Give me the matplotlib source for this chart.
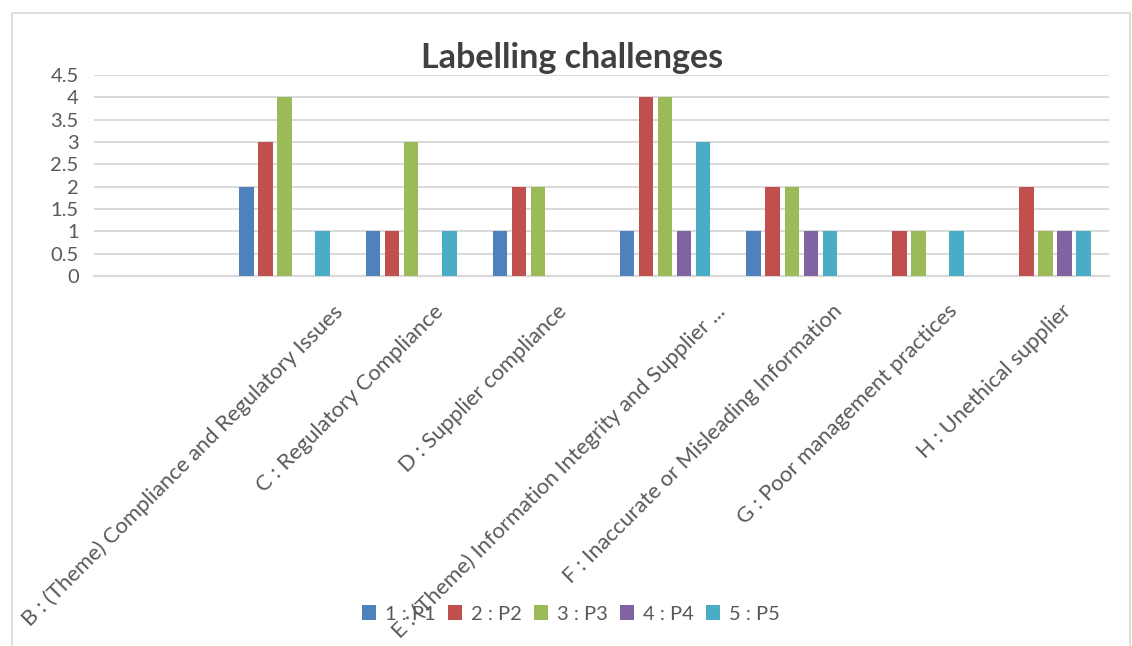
import matplotlib
matplotlib.use("Agg")
import matplotlib.pyplot as plt
import matplotlib.transforms as mtransforms
from matplotlib.patches import Rectangle, Patch
import numpy as np

# Chart data
categories = [
    "",
    "B : (Theme) Compliance and Regulatory Issues",
    "C : Regulatory Compliance",
    "D : Supplier compliance",
    "E : (Theme) Information Integrity and Supplier ...",
    "F : Inaccurate or Misleading Information",
    "G : Poor management practices",
    "H : Unethical supplier",
]
series_names = ["1 : P1", "2 : P2", "3 : P3", "4 : P4", "5 : P5"]
p1 = [0, 2, 1, 1, 1, 1, 0, 0]
p2 = [0, 3, 1, 2, 4, 2, 1, 2]
p3 = [0, 4, 3, 2, 4, 2, 1, 1]
p4 = [0, 0, 0, 0, 1, 1, 0, 1]
p5 = [0, 1, 1, 0, 3, 1, 1, 1]
series_values = [p1, p2, p3, p4, p5]
colors = ["#4F81BD", "#C0504D", "#9BBB59", "#8064A2", "#4BACC6"]
yticks = [0, 0.5, 1, 1.5, 2, 2.5, 3, 3.5, 4, 4.5]
ytick_labels = ["0", "0.5", "1", "1.5", "2", "2.5", "3", "3.5", "4", "4.5"]

FONT = "Lato"
TXT = "#595959"
GRID = "#d9d9d9"
LABEL_SIZE = 15.8

W, H, DPI = 1132, 646, 100
fig = plt.figure(figsize=(W / DPI, H / DPI), dpi=DPI)
fig.patch.set_facecolor("white")

# outer chart frame
fig.patches.append(Rectangle((12 / W, -0.05), (1130 - 12) / W, 1.05 - 13 / H,
                             transform=fig.transFigure, fill=False,
                             edgecolor=GRID, linewidth=1.2))

ax = fig.add_axes([94 / W, 1 - 276 / H, (1109 - 94) / W, (276 - 75) / H])

x = np.arange(len(categories))
step, bw = 0.15, 0.115
for k, (vals, col) in enumerate(zip(series_values, colors)):
    ax.bar(x + (k - 2) * step, vals, width=bw, color=col, linewidth=0, zorder=3)

ax.set_xlim(-0.5, len(categories) - 0.5)
ax.set_ylim(0, 4.5)
ax.set_yticks(yticks)
ax.set_yticklabels(ytick_labels, fontsize=14.5, color=TXT, family=FONT)
ax.tick_params(axis="y", length=0, pad=11)
ax.set_xticks([])
for g in yticks[1:]:
    ax.axhline(g, color=GRID, linewidth=1.4, zorder=1)
for s in ["left", "right", "top"]:
    ax.spines[s].set_visible(False)
ax.spines["bottom"].set_color(GRID)
ax.spines["bottom"].set_linewidth(1.6)
ax.spines["bottom"].set_zorder(2)

# rotated category labels, shifted right in proportion to their length
fig.canvas.draw()
renderer = fig.canvas.get_renderer()
base = mtransforms.blended_transform_factory(ax.transData, ax.transAxes)
for i, lab in enumerate(categories):
    if not lab:
        continue
    tmp = fig.text(0, 0, lab, fontsize=LABEL_SIZE, family=FONT)
    w = tmp.get_window_extent(renderer).width
    tmp.remove()
    dx = 0.137 * w - 13
    dy = -25
    tr = base + mtransforms.ScaledTranslation(dx / DPI, dy / DPI, fig.dpi_scale_trans)
    ax.text(i, 0, lab, transform=tr, rotation=45, rotation_mode="anchor",
            ha="right", va="top", fontsize=LABEL_SIZE, color=TXT, family=FONT,
            clip_on=False)

fig.text(572 / W, 1 - 58 / H, "Labelling challenges", ha="center", va="center",
         fontsize=24.5, fontweight="bold", color="#404040", family=FONT)

handles = [Patch(facecolor=c, edgecolor="none") for c in colors]
leg = fig.legend(handles, series_names, loc="center", bbox_to_anchor=(571 / W, 1 - 614 / H),
                 ncol=5, frameon=False, prop={"family": FONT, "size": 14.5},
                 handlelength=0.7, handleheight=0.7, handletextpad=0.45,
                 columnspacing=0.6, labelcolor=TXT)

fig.savefig("out.png", dpi=DPI, facecolor="white")
